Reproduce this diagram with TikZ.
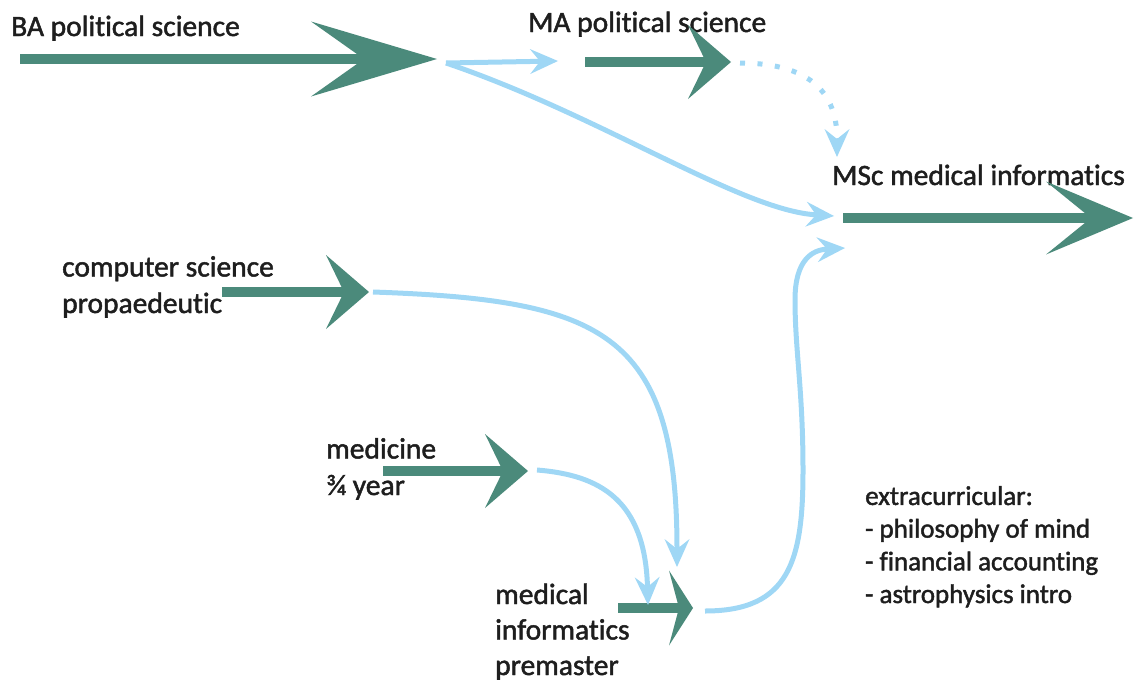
\documentclass[tikz,border=0pt]{standalone}
\usepackage{fontspec}
\setmainfont[Ligatures=NoCommon,FakeBold=1.6]{Carlito}
\usetikzlibrary{arrows.meta}
\definecolor{gr}{HTML}{4B8A7B}
\definecolor{lb}{HTML}{9FD7F5}
\definecolor{tx}{HTML}{1E1E1E}
\tikzset{
  lbl/.style={anchor=base west, inner sep=0pt, text=tx, font=\fontsize{29.5}{36.5}\selectfont, align=left},
  garrow/.style={draw=gr, line width=9.5pt},
  bigtip/.style={-{Stealth[length=126pt,width=75pt,inset=53pt,line width=0pt]}},
  midtip/.style={-{Stealth[length=43pt,width=74pt,inset=18pt,line width=0pt]}},
  msctip/.style={-{Stealth[length=87pt,width=73pt,inset=45pt,line width=0pt]}},
  smalltip/.style={-{Stealth[length=24pt,width=75pt,inset=10pt,line width=0pt]}},
  barrow/.style={draw=lb, line width=5pt, -{Stealth[length=28pt,width=25pt,inset=10pt,line width=0pt]}},
  dotline/.style={dash pattern=on 5pt off 12.5pt},
}
\begin{document}
\begin{tikzpicture}[x=1pt,y=-1pt]
\useasboundingbox (0,0) rectangle (1135,683);

% text labels (base = baseline of the last line)
\node[lbl] (ba) at (11,36) {BA political science};
\node[lbl] (ma) at (528,32) {MA political science};
\node[lbl] (msc) at (832,185) {MSc medical informatics};
\node[lbl] (cs) at (62,313) {computer science\\propaedeutic};
\node[lbl] (med) at (326,495) {medicine\\¾ year};
\node[lbl, font=\fontsize{29.5}{35.5}\selectfont] (pre) at (495,675) {medical\\informatics\\premaster};
\node[lbl, font=\fontsize{27}{32.7}\selectfont] (ex) at (865,603) {extracurricular:\\- philosophy of mind\\- financial accounting\\- astrophysics intro};

% green programme arrows
\coordinate (baS) at (20,59);   \coordinate (baT) at (437,59);
\coordinate (maS) at (585,62);  \coordinate (maT) at (731,62);
\coordinate (mscS) at (843,218); \coordinate (mscT) at (1133,218);
\coordinate (csS) at (222,292); \coordinate (csT) at (369,292);
\coordinate (medS) at (383,471); \coordinate (medT) at (528,471);
\coordinate (preS) at (618,608); \coordinate (preT) at (693,608);

\draw[garrow,bigtip] (baS) -- (baT);
\draw[garrow,midtip] (maS) -- (maT);
\draw[garrow,msctip] (mscS) -- (mscT);
\draw[garrow,midtip] (csS) -- (csT);
\draw[garrow,midtip] (medS) -- (medT);
\draw[garrow,smalltip] (preS) -- (preT);

% light blue transitions
\coordinate (baOut) at (446,63);
\coordinate (maIn) at (558,61);
\coordinate (maOut) at (740,63);
\coordinate (mscTop) at (837,157);
\coordinate (mscIn1) at (834,216);
\coordinate (mscIn2) at (845,248);
\coordinate (csOut) at (373,292);
\coordinate (medOut) at (537,470);
\coordinate (preIn1) at (677,567);
\coordinate (preIn2) at (648,605);
\coordinate (preOut) at (705,611);

\draw[barrow] (baOut) -- (maIn);
\draw[barrow] (baOut) .. controls (600,115) and (740,210) .. (mscIn1);
\draw[barrow,dotline] (maOut) .. controls (800,63) and (837,85) .. (mscTop);
\draw[barrow] (csOut) .. controls (600,300) and (677,330) .. (preIn1);
\draw[barrow] (medOut) .. controls (600,475) and (645,500) .. (preIn2);
\draw[barrow] (preOut) .. controls (790,611) and (803,560) .. (803,470)
  .. controls (803,390) and (795,350) .. (795,300)
  .. controls (795,260) and (812,250) .. (mscIn2);
\end{tikzpicture}
\end{document}
